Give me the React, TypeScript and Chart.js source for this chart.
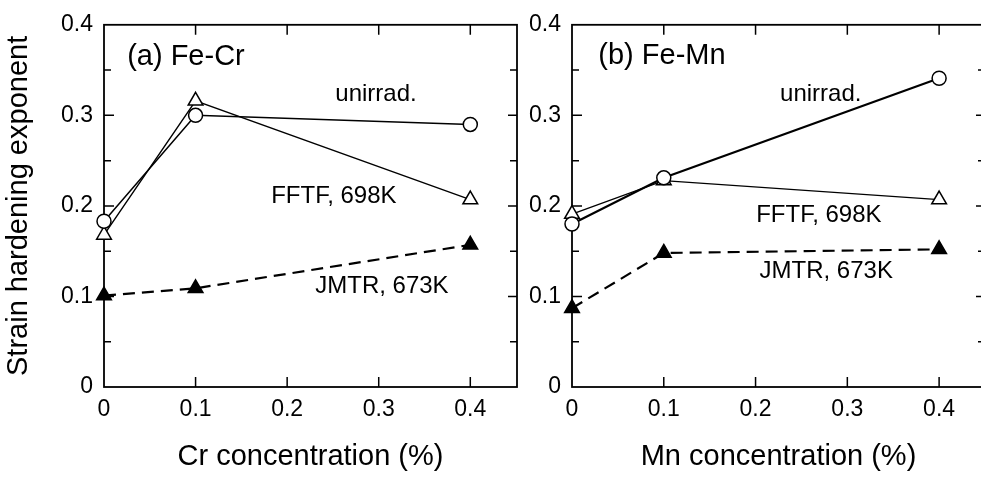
import React, { useEffect, useRef } from "react";
import { Chart, registerables } from "chart.js";

Chart.register(...registerables);

// ---- data ----
const xTickValues = [0, 0.1, 0.2, 0.3, 0.4];
const yTickValues = [0, 0.1, 0.2, 0.3, 0.4];
const yMinorValues = [0.05, 0.15, 0.25, 0.35];

const crConc = [0, 0.1, 0.4];
const crUnirrad = [0.183, 0.3, 0.29];
const crFFTF = [0.168, 0.316, 0.207];
const crJMTR = [0.101, 0.109, 0.157];

const mnConc = [0, 0.1, 0.4];
const mnUnirrad = [0.18, 0.231, 0.341];
const mnFFTF = [0.191, 0.228, 0.207];
const mnJMTR = [0.087, 0.148, 0.152];

const seriesNames = ["unirrad.", "FFTF, 698K", "JMTR, 673K"];
const panelTitles = ["(a) Fe-Cr", "(b) Fe-Mn"];
const xTitles = ["Cr concentration (%)", "Mn concentration (%)"];
const yTitle = "Strain hardening exponent";

const FAMILY = "'Liberation Sans', Arial, Helvetica, sans-serif";

type Label = { text: string; x: number; y: number; size: number };

function makeFramePlugin(labels: Label[]) {
  return {
    id: "frame",
    beforeDatasetsDraw(chart: any) {
      const { ctx, chartArea } = chart;
      const xs = chart.scales.x;
      const ys = chart.scales.y;
      const { left, right, top, bottom } = chartArea;
      ctx.save();
      ctx.strokeStyle = "#000";
      ctx.lineWidth = 1.8;
      ctx.strokeRect(left, top, right - left, bottom - top);
      ctx.lineWidth = 1.5;
      ctx.beginPath();
      xTickValues.forEach((v) => {
        if (v === 0) return;
        const px = xs.getPixelForValue(v);
        ctx.moveTo(px, bottom);
        ctx.lineTo(px, bottom - 10);
        ctx.moveTo(px, top);
        ctx.lineTo(px, top + 10);
      });
      yTickValues.forEach((v) => {
        if (v === 0 || v === 0.4) return;
        const py = ys.getPixelForValue(v);
        ctx.moveTo(left, py);
        ctx.lineTo(left + 10, py);
        ctx.moveTo(right, py);
        ctx.lineTo(right - 9, py);
      });
      yMinorValues.forEach((v) => {
        const py = ys.getPixelForValue(v);
        ctx.moveTo(left, py);
        ctx.lineTo(left + 7, py);
        ctx.moveTo(right, py);
        ctx.lineTo(right - 7, py);
      });
      ctx.stroke();
      ctx.restore();
    },
    afterDatasetsDraw(chart: any) {
      const { ctx } = chart;
      const xs = chart.scales.x;
      const ys = chart.scales.y;
      ctx.save();
      ctx.fillStyle = "#000";
      ctx.textAlign = "center";
      ctx.textBaseline = "middle";
      labels.forEach((l) => {
        ctx.font = `${l.size}px ${FAMILY}`;
        ctx.fillText(l.text, xs.getPixelForValue(l.x), ys.getPixelForValue(l.y));
      });
      ctx.restore();
    },
  };
}

function series(xs: number[], ys: number[], kind: number, lw: number) {
  const base: any = {
    data: xs.map((x, i) => ({ x, y: ys[i] })),
    showLine: true,
    borderColor: "#000",
    borderWidth: lw,
    pointBorderColor: "#000",
    pointBorderWidth: 1.5,
    clip: false,
    tension: 0,
  };
  if (kind === 0) {
    return { ...base, label: seriesNames[0], pointStyle: "circle", pointRadius: 7, pointBackgroundColor: "#fff" };
  }
  if (kind === 1) {
    return { ...base, label: seriesNames[1], pointStyle: "triangle", pointRadius: 8.5, pointBackgroundColor: "#fff" };
  }
  return {
    ...base,
    label: seriesNames[2],
    pointStyle: "triangle",
    pointRadius: 8.5,
    pointBackgroundColor: "#000",
    borderDash: [12, 7],
  };
}

function fmt(v: number) {
  return String(Math.round(v * 100) / 100);
}

function makeConfig(opts: {
  datasets: any[];
  labels: Label[];
  yAxisWidth: number;
  padRight: number;
  showYTitle: boolean;
  xTitle: string;
  xMax: number;
}) {
  const tickFont = { size: 23, family: FAMILY };
  return {
    type: "scatter" as const,
    data: { datasets: opts.datasets },
    options: {
      responsive: false,
      animation: false as const,
      layout: { padding: { left: 0, top: 18, right: opts.padRight, bottom: 0 } },
      plugins: { legend: { display: false }, tooltip: { enabled: false } },
      scales: {
        x: {
          type: "linear" as const,
          min: 0,
          max: opts.xMax,
          afterBuildTicks: (s: any) => {
            s.ticks = xTickValues.map((v) => ({ value: v }));
          },
          afterFit: (s: any) => {
            s.height = 91;
          },
          grid: { display: false, drawTicks: false },
          border: { display: false },
          ticks: {
            callback: (v: any) => fmt(Number(v)),
            font: tickFont,
            color: "#000",
            padding: 9,
            maxRotation: 0,
            autoSkip: false,
          },
          title: {
            display: true,
            text: opts.xTitle,
            font: { size: 29, family: FAMILY },
            color: "#000",
            padding: { top: 0, bottom: 4 },
          },
        },
        y: {
          type: "linear" as const,
          min: 0,
          max: 0.4,
          afterBuildTicks: (s: any) => {
            s.ticks = yTickValues.map((v) => ({ value: v }));
          },
          afterFit: (s: any) => {
            s.width = opts.yAxisWidth;
          },
          grid: { display: false, drawTicks: false },
          border: { display: false },
          ticks: {
            callback: (v: any) => fmt(Number(v)),
            font: tickFont,
            color: "#000",
            padding: 11,
            autoSkip: false,
          },
          title: {
            display: opts.showYTitle,
            text: yTitle,
            font: { size: 29, family: FAMILY },
            color: "#000",
            padding: { top: 2, bottom: 0 },
          },
        },
      },
    },
    plugins: [makeFramePlugin(opts.labels)],
  };
}

export default function App() {
  const leftRef = useRef<HTMLCanvasElement | null>(null);
  const rightRef = useRef<HTMLCanvasElement | null>(null);

  useEffect(() => {
    Chart.defaults.font.family = FAMILY;
    Chart.defaults.color = "#000";
    const left = new Chart(
      leftRef.current as HTMLCanvasElement,
      makeConfig({
        datasets: [
          series(crConc, crUnirrad, 0, 1.5),
          series(crConc, crFFTF, 1, 1.4),
          series(crConc, crJMTR, 2, 2.2),
        ],
        labels: [
          { text: panelTitles[0], x: 0.0895, y: 0.364, size: 29 },
          { text: seriesNames[0], x: 0.297, y: 0.323, size: 24 },
          { text: seriesNames[1], x: 0.251, y: 0.21, size: 24 },
          { text: seriesNames[2], x: 0.3035, y: 0.111, size: 24 },
        ],
        yAxisWidth: 104,
        padRight: 540 - 517,
        showYTitle: true,
        xTitle: xTitles[0],
        xMax: 0.451,
      }) as any
    );
    const right = new Chart(
      rightRef.current as HTMLCanvasElement,
      makeConfig({
        datasets: [
          series(mnConc, mnUnirrad, 0, 2.2),
          series(mnConc, mnFFTF, 1, 1.3),
          series(mnConc, mnJMTR, 2, 2.2),
        ],
        labels: [
          { text: panelTitles[1], x: 0.098, y: 0.3655, size: 29 },
          { text: seriesNames[0], x: 0.271, y: 0.323, size: 24 },
          { text: seriesNames[1], x: 0.269, y: 0.19, size: 24 },
          { text: seriesNames[2], x: 0.277, y: 0.128, size: 24 },
        ],
        yAxisWidth: 82,
        padRight: 510 - (985 - 490),
        showYTitle: false,
        xTitle: xTitles[1],
        xMax: 0.45,
      }) as any
    );
    return () => {
      left.destroy();
      right.destroy();
    };
  }, []);

  return (
    <div
      style={{
        position: "fixed",
        left: 0,
        top: 0,
        width: 981,
        height: 478,
        overflow: "hidden",
        background: "#fff",
      }}
    >
      <canvas
        ref={leftRef}
        width={540}
        height={478}
        style={{ position: "absolute", left: 0, top: 0, width: 540, height: 478 }}
      />
      <canvas
        ref={rightRef}
        width={510}
        height={478}
        style={{ position: "absolute", left: 490, top: 0, width: 510, height: 478 }}
      />
    </div>
  );
}
